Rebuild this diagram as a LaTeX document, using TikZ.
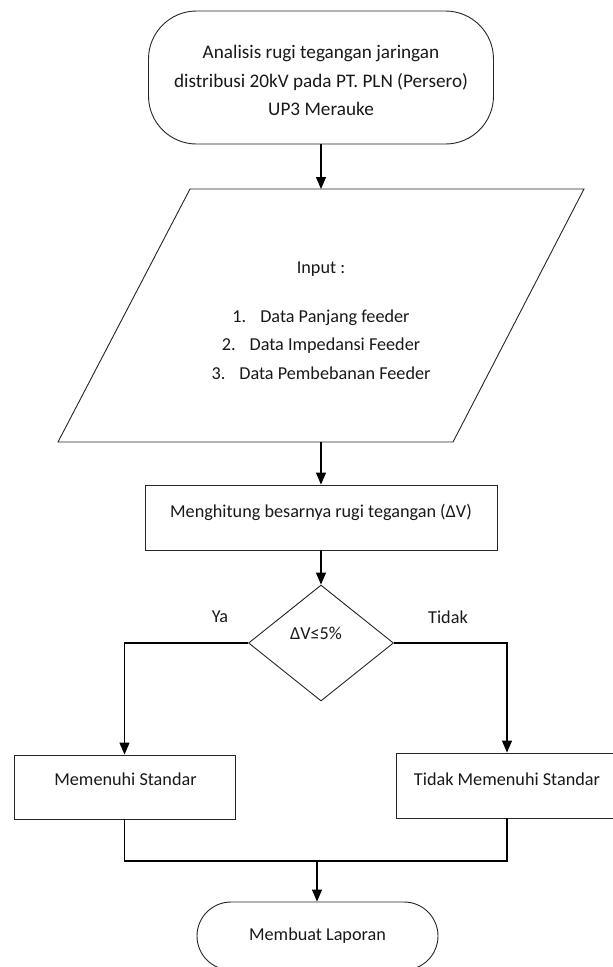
\documentclass[tikz,border=0pt]{standalone}
\usepackage{fontspec}
\setmainfont{Carlito}
\usetikzlibrary{arrows.meta,shapes.geometric}
\tikzset{
  shp/.style={draw=black!85, line width=0.9pt},
  txt/.style={font=\fontsize{18.2}{28.5}\selectfont, text=black!90},
  bigtxt/.style={font=\fontsize{19.2}{28.5}\selectfont, text=black!90},
  conn/.style={draw=black, line width=1.2pt, -{Triangle[length=12pt,width=10pt]}},
  plain/.style={draw=black, line width=1.2pt},
}
\begin{document}
\begin{tikzpicture}[x=1pt,y=-1pt]
\clip (0,0) rectangle (613,967);
\fill[white] (0,0) rectangle (613,967);

% start terminal
\node[shp, rounded corners=48pt, minimum width=345pt, minimum height=133pt,
  label={[bigtxt, align=center, yshift=-3pt]center:Analisis rugi tegangan jaringan\\distribusi 20kV pada PT. PLN (Persero)\\UP3 Merauke}] (start) at (321,77.5) {};

% input parallelogram
\draw[shp] (190,189) -- (584,189) -- (453,442) -- (58,442) -- cycle;
\coordinate (pTop) at (321,189);
\coordinate (pBot) at (321,442);
\node[txt, align=center] (inp) at (321,320.5)
  {Input :\\[20.5pt]1.\hspace{14pt}Data Panjang feeder\\2.\hspace{14pt}Data Impedansi Feeder\\3.\hspace{14pt}Data Pembebanan Feeder};

% process
\node[shp, minimum width=352pt, minimum height=65pt,
  label={[txt, yshift=5.5pt]center:Menghitung besarnya rugi tegangan (ΔV)}] (calc) at (321,517.5) {};

% decision
\node[shp, diamond, minimum width=145pt, minimum height=116pt, inner sep=0pt,
  label={[txt, xshift=-5pt, yshift=10pt]center:ΔV≤5\%}] (dec) at (321,643) {};
\node[txt] (yalab) at (220,617) {Ya};
\node[txt] (tidaklab) at (448,617) {Tidak};

% result boxes
\node[shp, minimum width=221pt, minimum height=64pt,
  label={[txt, xshift=1pt, yshift=8pt]center:Memenuhi Standar}] (ya) at (124.5,787) {};
\node[shp, minimum width=222pt, minimum height=65pt,
  label={[txt, yshift=6.5pt]center:Tidak Memenuhi Standar}] (tidak) at (507,785.5) {};

% end terminal
\node[shp, txt, rounded corners=34pt, minimum width=241pt, minimum height=68pt] (finish) at (317.5,936) {Membuat Laporan};

% connectors
\draw[conn] (start.south) -- (pTop);
\draw[conn] (pBot) -- (calc.north);
\draw[conn] (calc.south) -- (dec.north);
\draw[conn] (dec.west) -| (ya.north);
\draw[conn] (dec.east) -| (tidak.north);
\coordinate (mj) at (317,861);
\draw[plain] (ya.south) |- (mj) -| (tidak.south);
\draw[conn] (mj) -- (mj |- finish.north);
\end{tikzpicture}
\end{document}
